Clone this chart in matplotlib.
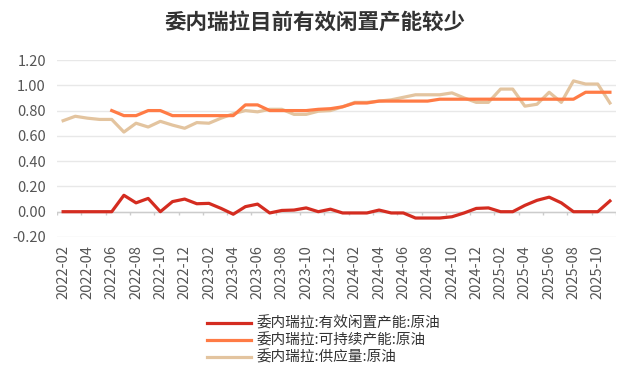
import matplotlib
matplotlib.use('Agg')
import matplotlib.pyplot as plt
import numpy as np
import pandas as pd

plt.rcParams['font.family'] = ['Noto Sans CJK SC', 'DejaVu Sans']
plt.rcParams['axes.unicode_minus'] = False

# 月度序列 2022-02 .. 2025-11
months = pd.period_range('2022-02', '2025-11', freq='M').strftime('%Y-%m').tolist()

# 有效闲置产能
spare = [0.00, 0.00, 0.00, 0.00, 0.00, 0.13, 0.07, 0.105, 0.00, 0.08,
         0.10, 0.063, 0.066, 0.026, -0.02, 0.04, 0.06, -0.01, 0.01, 0.013,
         0.03, 0.00, 0.02, -0.01, -0.01, -0.01, 0.013, -0.01, -0.01, -0.05,
         -0.05, -0.05, -0.04, -0.01, 0.026, 0.03, 0.00, 0.00, 0.05, 0.09,
         0.115, 0.07, 0.00, 0.00, 0.00, 0.085]

# 可持续产能 (从2022-06开始)
capacity = [None, None, None, None, 0.80, 0.76, 0.76, 0.80, 0.80, 0.76,
            0.76, 0.76, 0.76, 0.76, 0.76, 0.845, 0.845, 0.80, 0.80, 0.80,
            0.80, 0.81, 0.815, 0.83, 0.86, 0.86, 0.875, 0.875, 0.875, 0.875,
            0.875, 0.89, 0.89, 0.89, 0.89, 0.89, 0.89, 0.89, 0.89, 0.89,
            0.89, 0.89, 0.89, 0.945, 0.945, 0.945]

# 供应量
supply = [0.72, 0.755, 0.74, 0.73, 0.73, 0.63, 0.70, 0.67, 0.715, 0.685,
          0.66, 0.705, 0.70, 0.74, 0.775, 0.80, 0.79, 0.81, 0.81, 0.77,
          0.77, 0.795, 0.80, 0.83, 0.865, 0.865, 0.875, 0.885, 0.905, 0.925,
          0.925, 0.925, 0.94, 0.90, 0.865, 0.865, 0.97, 0.97, 0.835, 0.85,
          0.945, 0.865, 1.035, 1.01, 1.01, 0.86]

names = ['委内瑞拉:有效闲置产能:原油', '委内瑞拉:可持续产能:原油', '委内瑞拉:供应量:原油']
colors = ['#d42c20', '#ff7b45', '#e3c49f']

fig = plt.figure(figsize=(6.34, 3.70), dpi=100)
ax = fig.add_axes([0.090, 0.3595, 0.8816, 0.4783])

x = np.arange(len(months))
cap = np.array([np.nan if v is None else v for v in capacity], dtype=float)
ax.plot(x, spare, color=colors[0], lw=2.3, label=names[0], zorder=4)
ax.plot(x, cap, color=colors[1], lw=2.3, label=names[1], zorder=3)
ax.plot(x, supply, color=colors[2], lw=2.3, label=names[2], zorder=2)

ax.set_xlim(-0.5, len(months) - 0.5)
ax.set_ylim(-0.2, 1.2)
ax.set_yticks(np.arange(-0.2, 1.21, 0.2))
ax.set_yticklabels(['%.2f' % v for v in np.arange(-0.2, 1.21, 0.2)])
ax.grid(axis='y', color='#e8e8e8', lw=1)
ax.set_axisbelow(True)
for s in ax.spines.values():
    s.set_visible(False)
ax.tick_params(axis='y', length=0, labelsize=10.5, colors='#555555', pad=8)

ax.set_xticks(x[::2])
ax.set_xticklabels(months[::2], rotation=90)
ax.tick_params(axis='x', length=0, labelsize=10.5, colors='#555555', pad=6)

# 零轴和刻度
ax.axhline(0, color='#cccccc', lw=1, zorder=1)
bounds = np.arange(-0.5, len(months), 2)
ax.vlines(bounds, -0.03, 0, color='#cccccc', lw=1, zorder=1)

fig.text(0.497, 0.94, '委内瑞拉目前有效闲置产能较少', ha='center', va='center',
         fontsize=15.5, fontweight='bold', color='#333333')

fig.legend(loc='upper left', bbox_to_anchor=(0.318, 0.16), frameon=False,
           fontsize=10.5, handlelength=3.0, handletextpad=0.4,
           labelspacing=0.18, borderaxespad=0, labelcolor='#333333')

fig.savefig('out.png', dpi=100)
